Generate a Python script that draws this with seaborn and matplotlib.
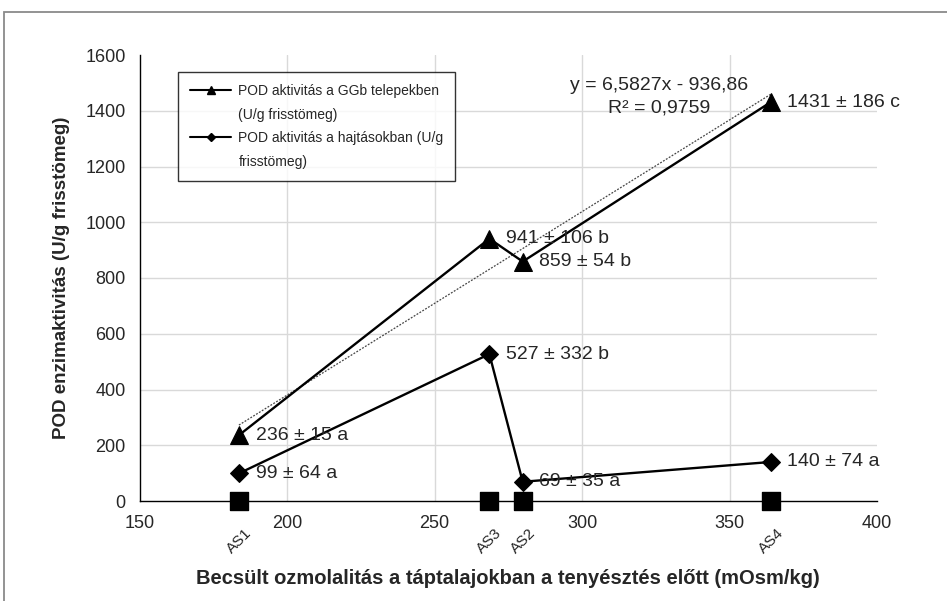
import numpy as np
import pandas as pd
import matplotlib
matplotlib.use("Agg")
import matplotlib.pyplot as plt
from matplotlib.lines import Line2D
from matplotlib.patches import Rectangle
import seaborn as sns

# Culture media and their estimated osmolality before culturing (mOsm/kg)
media = ["AS1", "AS3", "AS2", "AS4"]
osmolality = [183.7, 268.6, 279.9, 364.0]

# POD activity in GGb colonies (U/g fresh weight), SD and significance groups
pod_colony = [236, 941, 859, 1431]
sd_colony = [15, 106, 54, 186]
grp_colony = ["a", "b", "b", "c"]

# POD activity in shoots (U/g fresh weight), SD and significance groups
pod_shoot = [99, 527, 69, 140]
sd_shoot = [64, 332, 35, 74]
grp_shoot = ["a", "b", "a", "a"]

# Linear trend fitted to the colony series
trend_slope = 6.5827
trend_intercept = -936.86
trend_r2 = 0.9759

x_ticks = [150, 200, 250, 300, 350, 400]
y_ticks = [0, 200, 400, 600, 800, 1000, 1200, 1400, 1600]

legend_colony = ["POD aktivitás a GGb telepekben", "(U/g frisstömeg)"]
legend_shoot = ["POD aktivitás a hajtásokban (U/g", "frisstömeg)"]
x_title = "Becsült ozmolalitás a táptalajokban a tenyésztés előtt (mOsm/kg)"
y_title = "POD enzimaktivitás (U/g frisstömeg)"

df = pd.DataFrame({
    "medium": media,
    "osm": osmolality,
    "colony": pod_colony,
    "shoot": pod_shoot,
    "zero": [0] * len(media),
})

sns.set_style("white")
plt.rcParams["font.family"] = ["Liberation Sans", "DejaVu Sans"]

fig = plt.figure(figsize=(9.47, 6.01), dpi=100)
ax = fig.add_axes([139.5 / 947, 1 - 501 / 601, (877 - 139.5) / 947, (501 - 55) / 601])

# light grid, drawn inside the plotting area only
for yv in y_ticks[1:-1]:
    ax.axhline(yv, color="#d9d9d9", lw=1.0, zorder=0)
for xv in x_ticks[1:-1]:
    ax.axvline(xv, color="#d9d9d9", lw=1.0, zorder=0)

# trend line of the colony series
tx = np.array([min(osmolality), max(osmolality)])
ax.plot(tx, trend_slope * tx + trend_intercept, color="#444444", lw=0.9,
        linestyle=(0, (1.5, 1.2)), zorder=2)

sns.lineplot(data=df, x="osm", y="colony", ax=ax, color="black", lw=1.7,
             marker="^", markersize=13, markeredgecolor="black", zorder=3)
sns.lineplot(data=df, x="osm", y="shoot", ax=ax, color="black", lw=1.7,
             marker="D", markersize=9.5, markeredgecolor="black", zorder=3)
sns.scatterplot(data=df, x="osm", y="zero", ax=ax, color="black", marker="s",
                s=150, edgecolor="black", zorder=4, clip_on=False)

ax.set_xlim(150, 400)
ax.set_ylim(0, 1600)
ax.set_xticks(x_ticks)
ax.set_yticks(y_ticks)
ax.tick_params(axis="both", which="both", direction="out", length=4,
               width=1, color="black", labelsize=13, pad=6)
for side in ["top", "right"]:
    ax.spines[side].set_visible(False)
for side in ["left", "bottom"]:
    ax.spines[side].set_color("black")
    ax.spines[side].set_linewidth(1.0)

ax.set_xlabel(x_title, fontsize=14.5, fontweight="bold")
ax.xaxis.set_label_coords(0.5, -(578 - 501) / 446)
ax.xaxis.label.set_va("center")
ax.set_ylabel(y_title, fontsize=13.5, fontweight="bold")
ax.yaxis.set_label_coords(-(139.5 - 62) / 737.5, 0.5)
ax.yaxis.label.set_va("center")

# value labels: mean ± SD and group letter
for xv, yv, sd, g in zip(osmolality, pod_colony, sd_colony, grp_colony):
    ax.annotate(f"{yv} ± {sd} {g}", (xv, yv), xytext=(12, 0),
                textcoords="offset points", ha="left", va="center", fontsize=14)
for xv, yv, sd, g in zip(osmolality, pod_shoot, sd_shoot, grp_shoot):
    ax.annotate(f"{yv} ± {sd} {g}", (xv, yv), xytext=(12, 0),
                textcoords="offset points", ha="left", va="center", fontsize=14)

# medium names under the x axis
for xv, name in zip(osmolality, media):
    ax.annotate(name, (xv, 0), xytext=(4, -18), textcoords="offset points",
                ha="right", va="top", rotation=45, rotation_mode="anchor",
                fontsize=11, annotation_clip=False)

# trend equation, positioned in figure pixels measured from the top
eq_x, eq_y1, eq_y2 = 659, 85, 108
fig.text(eq_x / 947, 1 - eq_y1 / 601,
         f"y = {str(trend_slope).replace('.', ',')}x - "
         f"{str(abs(trend_intercept)).replace('.', ',')}",
         fontsize=14, ha="center", va="center")
fig.text(eq_x / 947, 1 - eq_y2 / 601,
         f"R² = {str(trend_r2).replace('.', ',')}",
         fontsize=14, ha="center", va="center")

handles = [
    Line2D([], [], color="black", lw=1.5, marker="^", markersize=6),
    Line2D([], [], linestyle="none"),
    Line2D([], [], color="black", lw=1.5, marker="D", markersize=4),
    Line2D([], [], linestyle="none"),
]
labels = [legend_colony[0], legend_colony[1], legend_shoot[0], legend_shoot[1]]
leg = ax.legend(handles, labels, loc="upper left",
                bbox_to_anchor=((178 - 139.5) / 737.5, (501 - 72) / 446),
                borderaxespad=0, frameon=True, fancybox=False, fontsize=10,
                handlelength=3.0, handletextpad=0.5, labelspacing=0.7,
                borderpad=0.85)
leg.get_frame().set_edgecolor("black")
leg.get_frame().set_linewidth(1.0)

# outer chart frame
fig.patches.append(Rectangle((4 / 947, -0.5), 2, 1 - 12 / 601 + 0.5,
                             transform=fig.transFigure, fill=False,
                             edgecolor="#8a8a8a", lw=1.3))

fig.savefig("out.png", dpi=100)
